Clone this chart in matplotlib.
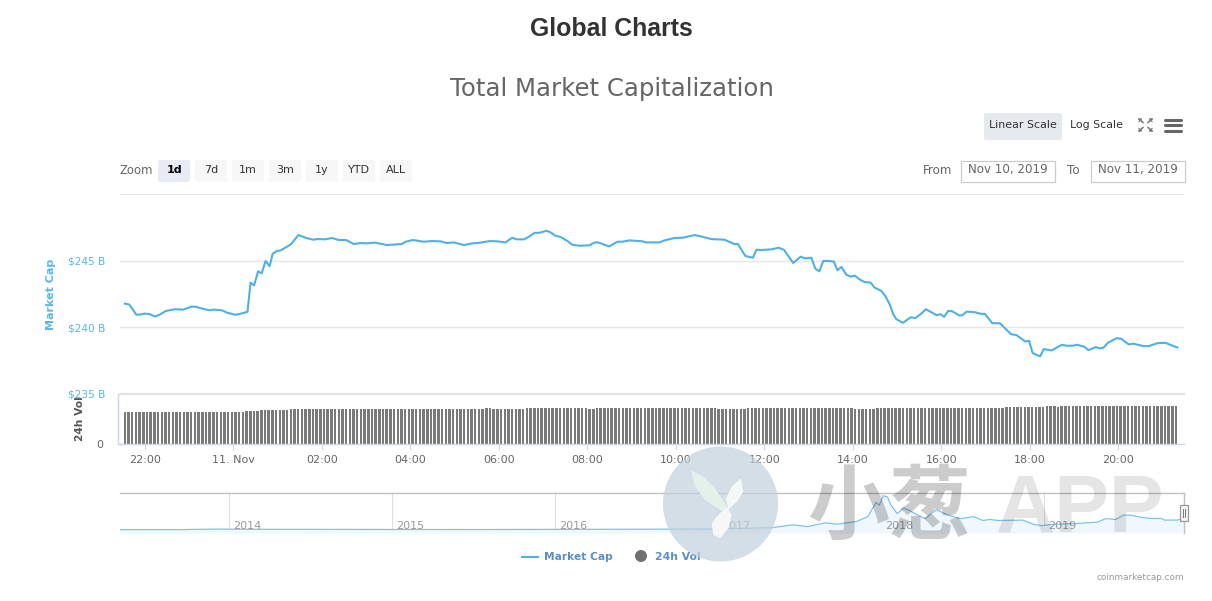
import matplotlib
matplotlib.use('Agg')
import matplotlib.pyplot as plt
from matplotlib.patches import Rectangle, FancyBboxPatch, Circle, Polygon
import numpy as np

W, H = 1212, 601
SANS = ['DejaVu Sans']
CJK = ['Noto Sans CJK SC', 'DejaVu Sans']

# market cap line, hours after 11 Nov 00:00 and $B
cap_hours = [-2.45, -2.35, -2.19, -2.11, -2.00, -1.89, -1.77, -1.66, -1.52, -1.32, -1.13, -0.94, -0.83, -0.68, -0.53,
             -0.45, -0.26, -0.15, 0.04, 0.15, 0.32, 0.39, 0.47, 0.56, 0.64, 0.73, 0.82, 0.89, 0.98, 1.07,
             1.30, 1.47, 1.65, 1.81, 1.89, 2.08, 2.23, 2.38, 2.55, 2.72, 2.88, 3.02, 3.21, 3.47, 3.81,
             3.89, 4.06, 4.30, 4.49, 4.68, 4.83, 4.98, 5.21, 5.40, 5.51, 5.80, 5.96, 6.15, 6.30, 6.40,
             6.57, 6.68, 6.81, 6.91, 7.08, 7.17, 7.28, 7.40, 7.55, 7.66, 7.81, 8.04, 8.17, 8.24, 8.49,
             8.68, 8.79, 8.95, 9.25, 9.32, 9.63, 9.74, 9.97, 10.15, 10.42, 10.53, 10.80, 11.10, 11.32, 11.40,
             11.57, 11.74, 11.82, 11.93, 12.16, 12.32, 12.44, 12.65, 12.82, 12.91, 13.06, 13.15, 13.24, 13.33, 13.44,
             13.57, 13.65, 13.74, 13.85, 13.95, 14.04, 14.15, 14.26, 14.40, 14.49, 14.64, 14.73, 14.83, 14.91, 14.98,
             15.13, 15.31, 15.41, 15.53, 15.65, 15.77, 15.89, 15.98, 16.06, 16.15, 16.24, 16.40, 16.47, 16.57, 16.76,
             16.89, 16.98, 17.15, 17.32, 17.57, 17.70, 17.89, 17.98, 18.06, 18.23, 18.31, 18.49, 18.72, 18.83, 18.96,
             19.07, 19.23, 19.32, 19.49, 19.57, 19.66, 19.76, 19.96, 20.06, 20.23, 20.34, 20.57, 20.68, 20.89, 21.06,
             21.21, 21.33]
cap_values = [241.78, 241.71, 240.94, 240.96, 241.03, 240.99, 240.81, 240.96, 241.23, 241.36, 241.33, 241.56, 241.53, 241.38, 241.28,
              241.33, 241.28, 241.11, 240.94, 241.01, 241.16, 243.35, 243.15, 244.20, 244.05, 244.98, 244.58, 245.52, 245.72, 245.77,
              246.22, 246.92, 246.70, 246.57, 246.62, 246.60, 246.70, 246.55, 246.55, 246.25, 246.32, 246.30, 246.35, 246.17, 246.25,
              246.42, 246.55, 246.42, 246.47, 246.45, 246.32, 246.37, 246.17, 246.30, 246.32, 246.47, 246.45, 246.37, 246.72, 246.60,
              246.60, 246.80, 247.09, 247.09, 247.24, 247.12, 246.87, 246.77, 246.47, 246.20, 246.12, 246.15, 246.37, 246.37, 246.07,
              246.42, 246.42, 246.52, 246.45, 246.37, 246.37, 246.52, 246.70, 246.72, 246.92, 246.85, 246.62, 246.57, 246.25, 246.25,
              245.35, 245.22, 245.82, 245.80, 245.85, 245.97, 245.82, 244.83, 245.30, 245.17, 245.22, 244.40, 244.20, 244.98, 244.98,
              244.93, 244.28, 244.53, 243.95, 243.80, 243.88, 243.60, 243.40, 243.35, 242.98, 242.73, 242.36, 241.73, 240.99, 240.61,
              240.34, 240.76, 240.69, 240.99, 241.36, 241.13, 240.91, 240.99, 240.79, 241.23, 241.21, 240.89, 240.91, 241.18, 241.13,
              241.01, 241.01, 240.31, 240.31, 239.49, 239.41, 238.94, 238.99, 238.07, 237.82, 238.37, 238.27, 238.69, 238.62, 238.62,
              238.69, 238.54, 238.29, 238.52, 238.42, 238.47, 238.84, 239.19, 239.14, 238.72, 238.77, 238.59, 238.59, 238.82, 238.84,
              238.64, 238.49]

# 24h volume, runs of 5 minute bars at the same level
vol_levels = [63.4, 66, 68, 70.6, 72.6, 70.6, 72.6, 70.6, 72.6, 70.6, 72.6, 70.6, 72.6, 74.6, 76.6, 74.6, 76.6]
vol_runs = [33, 4, 8, 53, 2, 9, 17, 2, 33, 8, 29, 6, 35, 11, 3, 1, 32]
vol_start_hour = -2.45
vol_step_hours = 5 / 60

hour_ticks = [-2, 0, 2, 4, 6, 8, 10, 12, 14, 16, 18, 20]
hour_labels = ['22:00', '11. Nov', '02:00', '04:00', '06:00', '08:00', '10:00', '12:00', '14:00', '16:00', '18:00', '20:00']
cap_ticks = [235, 240, 245, 250]
cap_labels = ['$235 B', '$240 B', '$245 B', '']

# navigator: whole history
nav_years = [2013.33, 2013.7, 2013.93, 2013.98, 2014.1, 2014.5, 2015.0, 2015.5, 2016.0, 2016.59, 2017.0, 2017.33, 2017.46, 2017.55, 2017.66,
             2017.73, 2017.85, 2017.92, 2017.97, 2017.99, 2018.015, 2018.04, 2018.06, 2018.10, 2018.14, 2018.175,
             2018.23, 2018.27, 2018.34, 2018.41, 2018.49, 2018.57, 2018.625, 2018.67, 2018.72, 2018.87, 2018.94,
             2018.99, 2019.06, 2019.19, 2019.33, 2019.38, 2019.44, 2019.49, 2019.54, 2019.60, 2019.66, 2019.72,
             2019.74, 2019.82, 2019.855]
nav_values = [2, 2, 15, 14, 10, 8, 5, 4, 7, 12, 18, 50, 118, 76, 168,
              135, 200, 320, 670, 600, 830, 800, 610, 395, 530, 470,
              350, 270, 490, 360, 270, 320, 225, 250, 225, 235, 125,
              100, 135, 150, 185, 270, 250, 360, 350, 300, 275, 275,
              235, 235, 275]
nav_year_labels = [2014, 2015, 2016, 2017, 2018, 2019]

zoom_buttons = ['1d', '7d', '1m', '3m', '1y', 'YTD', 'ALL']


def axes_px(x0, y0, x1, y1, **kw):
    return fig.add_axes([x0 / W, 1 - y1 / H, (x1 - x0) / W, (y1 - y0) / H], **kw)


def px_layer(z):
    a = fig.add_axes([0, 0, 1, 1], zorder=z)
    a.set_xlim(0, W)
    a.set_ylim(H, 0)
    a.axis('off')
    a.patch.set_alpha(0)
    return a


def leaf(zoom_pts, color):
    pts = [(660 + x / 3, 445 + y / 3) for x, y in zoom_pts]
    fg.add_patch(Polygon(pts, fc=color, ec='none'))


fig = plt.figure(figsize=(W / 100, H / 100), dpi=100, facecolor='white')
plt.rcParams['font.family'] = SANS

bg = px_layer(0)
fg = px_layer(10)

xlim_hours = (-2.56, 21.48)

# main chart
ax = axes_px(120, 194, 1184, 394, zorder=2)
ax.patch.set_alpha(0)
ax.plot(cap_hours, cap_values, color='#4fb0e8', lw=1.5, solid_joinstyle='round')
ax.set_xlim(*xlim_hours)
ax.set_ylim(235, 250)
ax.set_xticks([])
ax.set_yticks(cap_ticks)
ax.set_yticklabels(cap_labels, color='#5cb5ec', fontsize=7.6)
ax.tick_params(axis='y', length=0, pad=10.5)
ax.grid(axis='y', color='#e6e6e6', lw=1)
ax.set_axisbelow(True)
for s in ax.spines.values():
    s.set_visible(False)
ax.spines['bottom'].set_visible(True)
ax.spines['bottom'].set_color('#e2e2e2')
ax.spines['bottom'].set_linewidth(1.5)

# volume bars
ax2 = axes_px(120, 394, 1184, 444.3, zorder=3)
ax2.patch.set_alpha(0)
vol_values = np.repeat(vol_levels, vol_runs)
vol_hours = vol_start_hour + vol_step_hours * np.arange(len(vol_values))
ax2.bar(vol_hours, vol_values, width=0.056, color='#7a7a7a', linewidth=0)
ax2.set_xlim(*xlim_hours)
ax2.set_ylim(0, 100)
ax2.set_xticks(hour_ticks)
ax2.set_xticklabels(hour_labels, color='#666666', fontsize=8)
ax2.set_yticks([0])
ax2.set_yticklabels(['0'], color='#666666', fontsize=8)
ax2.tick_params(axis='x', length=4, width=0.8, color='#ccd6eb', pad=4)
ax2.tick_params(axis='y', length=0, pad=12)
for s in ax2.spines.values():
    s.set_visible(False)
ax2.spines['bottom'].set_visible(True)
ax2.spines['bottom'].set_color('#ccd6eb')
ax2.spines['bottom'].set_linewidth(1)
bg.plot([117.5, 117.5], [394, 444], color='#ccd6eb', lw=1)
bg.plot([117.5, 120], [444.3, 444.3], color='#ccd6eb', lw=1)

# navigator
ax3 = axes_px(120, 493, 1184, 533, zorder=2)
ax3.patch.set_alpha(0)
ax3.set_xlim(2013.33, 2019.86)
ax3.set_ylim(-81, 898)
ax3.fill_between(nav_years, nav_values, -81, color='#f1f8fd', lw=0)
ax3.plot(nav_years, nav_values, color='#7cc4ec', lw=0.9)
ax3.set_xticks(nav_year_labels)
ax3.set_xticklabels([])
ax3.set_yticks([])
ax3.tick_params(axis='x', length=0)
ax3.grid(axis='x', color='#e0e0e0', lw=0.8)
ax3.set_axisbelow(True)
for y in nav_year_labels:
    ax3.annotate(str(y), (y, 0), xycoords=('data', 'axes fraction'), xytext=(3, 1.5), textcoords='offset points',
                 color='#999999', fontsize=8, va='bottom', ha='left')
for s in ax3.spines.values():
    s.set_visible(False)
ax3.spines['top'].set_visible(True)
ax3.spines['top'].set_color('#c0c0c0')
ax3.spines['top'].set_linewidth(1)
ax3.spines['right'].set_visible(True)
ax3.spines['right'].set_color('#c0c0c0')
ax3.spines['right'].set_linewidth(1)

# navigator handle
fg.add_patch(Rectangle((1179.5, 505), 8, 16, fc='#f5f5f5', ec='#999999', lw=0.9))
fg.plot([1182.5, 1182.5], [509, 517], color='#777777', lw=0.7)
fg.plot([1184.5, 1184.5], [509, 517], color='#777777', lw=0.7)

# titles
bg.text(611, 29.5, 'Global Charts', family='Liberation Sans', weight='bold', fontsize=17.9, color='#333333',
        ha='center', va='center')
bg.text(612, 89, 'Total Market Capitalization', fontsize=17.6, color='#666666', ha='center', va='center')

# axis titles
bg.text(51, 294, 'Market Cap', rotation=90, color='#5cb5ec', fontsize=8, weight='bold', ha='center', va='center')
fg.text(80, 419, '24h Vol', rotation=90, color='#555555', fontsize=7.7, weight='bold', ha='center', va='center')

# scale buttons and icons
bg.add_patch(FancyBboxPatch((984, 113), 78, 27, boxstyle='round,pad=0,rounding_size=2', fc='#e6e9ed', ec='none'))
bg.text(1022.5, 125, 'Linear Scale', fontsize=7.9, color='#333333', ha='center', va='center')
bg.text(1097, 125, 'Log Scale', fontsize=7.9, color='#333333', ha='center', va='center')
for y in [119.5, 125, 130.5]:
    bg.plot([1165, 1181], [y, y], color='#666666', lw=2.2, solid_capstyle='round')
for x0, y0, dx, dy in [(1139, 119, 1, 1), (1152, 119, -1, 1), (1139, 131, 1, -1), (1152, 131, -1, -1)]:
    bg.plot([x0, x0 + 4 * dx], [y0, y0 + 3.5 * dy], color='#777777', lw=1.1)
    bg.plot([x0, x0 + 2.5 * dx, x0], [y0 + 2.5 * dy, y0, y0], color='#777777', lw=0.9)

# zoom row
bg.text(120, 171, 'Zoom', fontsize=8.4, color='#666666', ha='left', va='center')
for i, b in enumerate(zoom_buttons):
    x0 = 158 + 37 * i
    sel = i == 0
    bg.add_patch(FancyBboxPatch((x0, 160), 32, 22, boxstyle='round,pad=0,rounding_size=2',
                                fc='#e6ebf5' if sel else '#f7f7f7', ec='none'))
    bg.text(x0 + 16, 170, b, fontsize=8, color='black' if sel else '#333333',
            weight='bold' if sel else 'normal', ha='center', va='center')

# date range
bg.text(938, 170, 'From', fontsize=8.6, color='#666666', ha='center', va='center')
bg.text(1073.5, 170, 'To', fontsize=8.6, color='#666666', ha='center', va='center')
for x0, s in [(960.5, 'Nov 10, 2019'), (1090.5, 'Nov 11, 2019')]:
    bg.add_patch(Rectangle((x0, 160.5), 94, 21, fc='white', ec='#cccccc', lw=0.9))
    bg.text(x0 + 47, 170, s, fontsize=8.6, color='#666666', ha='center', va='center')

# legend
bg.plot([522, 538], [556.5, 556.5], color='#4fb0e8', lw=1.5)
bg.text(544, 556.5, 'Market Cap', fontsize=7.7, weight='bold', color='#5a8fc8', ha='left', va='center')
bg.add_patch(Circle((641, 556), 6, fc='#707070', ec='none'))
bg.text(655, 556.5, '24h Vol', fontsize=7.8, weight='bold', color='#5a8fc8', ha='left', va='center')
bg.text(1184, 578, 'coinmarketcap.com', fontsize=6.4, color='#999999', ha='right', va='center')

# watermark
fg.add_patch(Circle((720.5, 504), 57.5, fc='#c3d0dd', ec='none', alpha=0.7))
leaf([(93, 75), (130, 95), (165, 130), (195, 175), (205, 200), (180, 195), (135, 165), (105, 125)], '#e3f1ea')
leaf([(243, 100), (250, 140), (235, 165), (205, 195), (198, 160), (215, 125)], '#f4f8f6')
leaf([(200, 185), (215, 210), (205, 250), (180, 280), (160, 270), (155, 235), (170, 215)], '#f6f8f8')
fg.text(889, 509, '小葱', family=CJK, weight='bold', fontsize=59, color='black', alpha=0.2, ha='center', va='center')
fg.text(1080, 511, 'APP', family='Liberation Sans', weight='bold', fontsize=59, color='black', alpha=0.1,
        ha='center', va='center')

fig.savefig('out.png', dpi=100, facecolor='white')
